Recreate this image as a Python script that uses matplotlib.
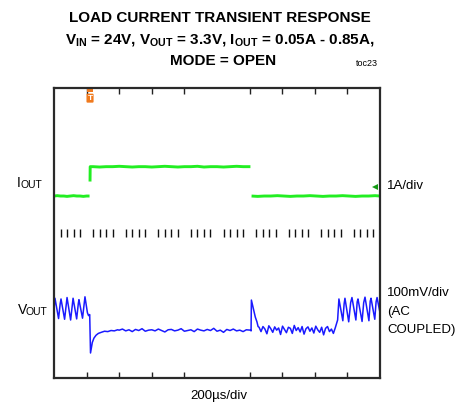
import numpy as np
import matplotlib.pyplot as plt

# scope screen: 10 x 8 divisions, 200us/div, 1A/div, 100mV/div
US_PER_DIV = 200
IOUT_ZERO_DIV = 4.97    # screen division where 0A sits
VOUT_REF_DIV = 1.5      # screen division for 0mV (AC coupled)
MV_PER_DIV = 100

# load current trace (us, A); nan = beam gap on the fast edges
iout_t = [0, 20, 40, 60, 80, 100, 120, 140, 160, 180, 200, 218, 220, 221, 222,
          240, 280, 320, 360, 400, 440, 480, 520, 560, 600, 640, 680, 720, 760,
          800, 840, 880, 920, 960, 1000, 1040, 1080, 1120, 1160, 1205, 1208,
          1212, 1250, 1290, 1330, 1370, 1410, 1450, 1490, 1530, 1570, 1610,
          1650, 1690, 1730, 1770, 1810, 1850, 1890, 1930, 1970, 2000]
iout_a = [0.05, 0.06, 0.05, 0.05, 0.04, 0.05, 0.06, 0.05, 0.05, 0.04, 0.05, 0.05, np.nan, 0.45, 0.86,
          0.86, 0.85, 0.86, 0.86, 0.87, 0.86, 0.85, 0.86, 0.86, 0.85, 0.86, 0.87, 0.86, 0.85,
          0.86, 0.86, 0.87, 0.85, 0.86, 0.86, 0.85, 0.86, 0.87, 0.86, 0.86, np.nan,
          0.05, 0.04, 0.05, 0.05, 0.06, 0.05, 0.04, 0.05, 0.05, 0.06, 0.05,
          0.04, 0.05, 0.05, 0.06, 0.05, 0.04, 0.05, 0.05, 0.06, 0.05]

# output voltage, light load ripple before the step (us, mV)
vout_pre_t = [0, 6, 28, 38, 43, 65, 75, 80, 102, 112, 117, 139, 149, 153,
              175, 185, 190, 205, 212, 219, 224]
vout_pre_mv = [40, 70, 14, 55, 68, 12, 52, 72, 10, 50, 70, 13, 55, 66,
               15, 54, 74, 30, 22, 25, -81]

# recovery after load step up
vout_rec_t = [228, 235, 245, 258, 272, 290, 310, 330, 350, 370, 390]
vout_rec_mv = [-70, -52, -40, -32, -27, -24, -21, -22, -19, -20, -17]

# heavy load noise, sampled every 20us from 400us
heavy_start_us = 400
heavy_step_us = 20
vout_heavy_mv = [-18, -15, -20, -17, -22, -16, -19, -14, -21, -18, -17, -20, -15, -19,
                 -23, -17, -16, -20, -18, -14, -21, -19, -17, -22, -15, -18, -20, -16,
                 -19, -13, -21, -18, -24, -16, -19, -15, -20, -18, -22, -17, -18]

# overshoot at load step down
vout_os_t = [1205, 1209, 1211, 1216, 1225, 1235, 1245, 1252]
vout_os_mv = [-18, -20, 65, 55, 38, 18, 5, -8]

# light load band after the step, sampled every 12us from 1258us
light_start_us = 1258
light_step_us = 12
vout_light_mv = [-10, -22, -8, -15, -28, -6, -14, -24, -9, -18, -12, -30, -7, -16,
                 -25, -10, -13, -27, -5, -19, -11, -23, -8, -29, -14, -9, -21, -12,
                 -26, -7, -17, -24, -10, -31, -13, -8, -22, -15, -27, -11]

# ripple comes back
vout_post_t = [1740, 1748, 1772, 1780, 1785, 1808, 1820, 1828, 1852, 1860, 1865,
               1890, 1900, 1908, 1932, 1940, 1945, 1968, 1976, 1982, 2000]
vout_post_mv = [10, 68, 8, 55, 70, 5, 58, 72, 10, 60, 68,
                6, 58, 73, 8, 62, 70, 12, 60, 72, 30]

vout_t = (vout_pre_t + vout_rec_t
          + list(heavy_start_us + heavy_step_us * np.arange(len(vout_heavy_mv)))
          + vout_os_t
          + list(light_start_us + light_step_us * np.arange(len(vout_light_mv)))
          + vout_post_t)
vout_mv = vout_pre_mv + vout_rec_mv + vout_heavy_mv + vout_os_mv + vout_light_mv + vout_post_mv

plt.rcParams['font.family'] = ['Liberation Sans', 'DejaVu Sans']
plt.rcParams['mathtext.fontset'] = 'custom'
plt.rcParams['mathtext.rm'] = 'Liberation Sans:bold'
plt.rcParams['mathtext.it'] = 'Liberation Sans:bold'
plt.rcParams['mathtext.bf'] = 'Liberation Sans:bold'

W, H = 456, 409
fig = plt.figure(figsize=(W / 100, H / 100), dpi=100)
ax = fig.add_axes([54 / W, (H - 378) / H, 326 / W, 290 / H])
ax.set_xlim(0, 10 * US_PER_DIV)
ax.set_ylim(0, 8)

# graticule
major = [d * US_PER_DIV for d in (1, 2, 3, 4, 6, 7, 8, 9)]
ax.set_xticks(major)
ax.set_yticks([])
ax.tick_params(axis='x', which='both', direction='in', top=True, bottom=True,
               labelbottom=False, length=4, width=1, color='#222222')
for s in ax.spines.values():
    s.set_color('#2a2a2a')
    s.set_linewidth(1.6)
minor = [k * US_PER_DIV / 5 for k in range(1, 50) if k % 5]
ax.vlines(minor, 3.89, 4.11, color='#111111', lw=1)

# traces
ax.plot(iout_t, IOUT_ZERO_DIV + np.array(iout_a), color='#22ee22', lw=2.1,
        solid_capstyle='butt')
ax.plot(vout_t, VOUT_REF_DIV + np.array(vout_mv) / MV_PER_DIV, color='#1a1aff', lw=1.1)

# trigger + ground markers
orange = '#f07a1e'
ax.plot(221, 7.96, marker='s', color=orange, ms=4.5, mew=0)
ax.text(221, 7.72, 'T', color='white', fontsize=6, fontweight='bold', ha='center',
        va='center', bbox=dict(fc=orange, ec='none', boxstyle='round,pad=0.12'))
ax.plot(1968, 5.28, marker='<', color='#139913', ms=5, mew=0)

# titles
tfont = dict(fontweight='bold', fontsize=11, ha='center', va='center')
fig.text(219.5 / W, 1 - 18 / H, 'LOAD CURRENT TRANSIENT RESPONSE', **tfont)
fig.text(219.5 / W, 1 - 40 / H,
         r'V$_{\mathrm{IN}}$ = 24V, V$_{\mathrm{OUT}}$ = 3.3V, I$_{\mathrm{OUT}}$ = 0.05A - 0.85A,',
         **tfont)
fig.text(223 / W, 1 - 61 / H, 'MODE = OPEN', **tfont)
fig.text(367 / W, 1 - 63 / H, 'toc23', fontsize=6.5, ha='center', va='center')

# scale labels
lab = dict(fontsize=9.5, va='center')
fig.text(387 / W, 1 - 186 / H, '1A/div', **lab)
fig.text(387 / W, 1 - 293 / H, '100mV/div', **lab)
fig.text(387 / W, 1 - 312 / H, '(AC', **lab)
fig.text(387 / W, 1 - 330 / H, 'COUPLED)', **lab)
fig.text(219 / W, 1 - 396 / H, '200\u00b5s/div', fontsize=9.5, ha='center', va='center')

fig.text(17 / W, 1 - 187 / H, 'I', fontsize=10, va='baseline')
fig.text(21 / W, 1 - 188 / H, 'OUT', fontsize=7.5, va='baseline')
fig.text(18 / W, 1 - 314 / H, 'V', fontsize=10, va='baseline')
fig.text(26 / W, 1 - 315 / H, 'OUT', fontsize=7.5, va='baseline')

fig.savefig('out.png', dpi=100)
